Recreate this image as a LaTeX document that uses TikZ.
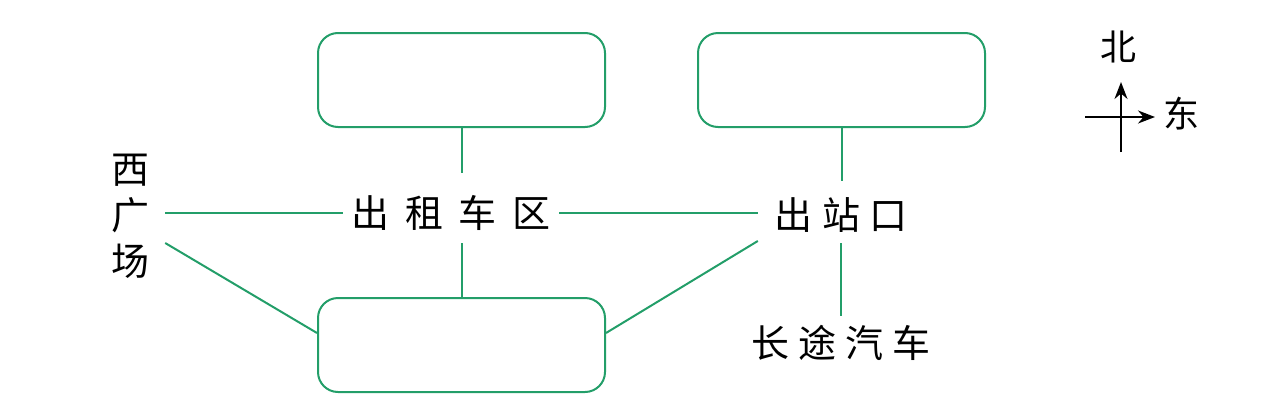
\documentclass[tikz,border=0pt]{standalone}
\usepackage{fontspec}
\newfontfamily\cjk{Noto Sans CJK SC}
\usetikzlibrary{arrows.meta}
\definecolor{lg}{RGB}{35,158,105}
\newcommand\cc[2]{\makebox[#1]{#2}}
\begin{document}
\begin{tikzpicture}[x=1pt,y=-1pt,
  box/.style={draw=lg,line width=2pt,rounded corners=20pt,minimum width=287pt,minimum height=94pt,inner sep=0pt},
  lbl/.style={inner sep=0pt,font=\cjk\fontsize{38}{46}\selectfont},
  conn/.style={draw=lg,line width=2pt},
  compass/.style={line width=2pt,-{Stealth[length=17pt,width=13pt]}}]
\useasboundingbox (0,0) rectangle (1277,410);
\node[box] (tl) at (461.5,80) {};
\node[box] (tr) at (841.5,80) {};
\node[box] (bt) at (461.5,345) {};
\node[lbl,minimum width=214pt,minimum height=60pt] (taxi) at (451,213) {\cc{54pt}{出}\cc{54pt}{租}\cc{54pt}{车}\cc{54pt}{区}};
\node[lbl,minimum width=166pt,minimum height=56pt] (exit) at (841,215) {\cc{48pt}{出}\cc{48pt}{站}\cc{48pt}{口}};
\node[lbl,minimum height=54pt] (bus) at (841,343) {\cc{47pt}{长}\cc{47pt}{途}\cc{47pt}{汽}\cc{47pt}{车}};
\node[lbl,align=center,minimum width=70pt] (west) at (130,216) {西\\广\\场};
\node[lbl,font=\cjk\fontsize{36}{36}\selectfont] (north) at (1118,47) {北};
\node[lbl,font=\cjk\fontsize{36}{36}\selectfont] (east) at (1181,114) {东};
\coordinate (ab) at (1121,152);
\coordinate (at) at (1121,82);
\coordinate (al) at (1085,117);
\coordinate (ar) at (1155,117);
\draw[compass] (ab) -- (at);
\draw[compass] (al) -- (ar);
\draw[conn] ([yshift=3pt]west.east) -- (taxi.west);
\draw[conn] (taxi.east) -- ([yshift=2pt]exit.west);
\draw[conn,shorten >=10pt] (tl.south) -- (tl.south |- taxi.north);
\draw[conn] (bt.north |- taxi.south) -- (bt.north);
\draw[conn,shorten >=6pt] (tr.south) -- (tr.south |- exit.north);
\draw[conn] (exit.south) -- (bus.north);
\draw[conn] ([yshift=-27pt]west.east) -- ([yshift=12pt]bt.west);
\draw[conn] ([yshift=-26pt]exit.west) -- ([yshift=12pt]bt.east);
\end{tikzpicture}
\end{document}
